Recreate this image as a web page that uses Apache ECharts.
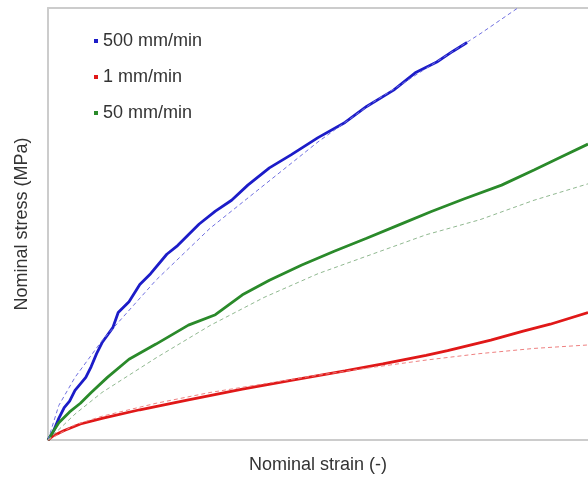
<!DOCTYPE html>
<html>
<head>
<meta charset="utf-8">
<script src="https://cdn.jsdelivr.net/npm/echarts@6/dist/echarts.min.js"></script>
<style>
html, body { margin: 0; padding: 0; background: #fff; }
#main { width: 588px; height: 479px; }
</style>
</head>
<body>
<div id="main"></div>
<script>
// measured curves, [strain, stress] in relative units (0..1)
var blue500 = [[0,0],[0.01,0.02],[0.02,0.05],[0.03,0.075],[0.04,0.09],[0.05,0.115],[0.06,0.13],[0.07,0.145],
  [0.08,0.17],[0.09,0.2],[0.1,0.225],[0.12,0.26],[0.13,0.295],[0.15,0.32],[0.17,0.36],[0.19,0.385],
  [0.22,0.43],[0.24,0.45],[0.26,0.475],[0.28,0.5],[0.31,0.53],[0.34,0.555],[0.37,0.59],[0.41,0.63],
  [0.45,0.66],[0.5,0.7],[0.55,0.735],[0.59,0.772],[0.64,0.81],[0.68,0.85],[0.72,0.875],[0.75,0.9],[0.776,0.92]];
var red1 = [[0,0],[0.01,0.01],[0.03,0.022],[0.06,0.037],[0.1,0.05],[0.17,0.07],[0.26,0.093],[0.36,0.118],
  [0.45,0.138],[0.55,0.16],[0.62,0.176],[0.7,0.196],[0.74,0.207],[0.82,0.231],[0.88,0.252],[0.93,0.268],[1.0,0.295]];
var green50 = [[0,0],[0.01,0.02],[0.02,0.04],[0.04,0.065],[0.06,0.085],[0.08,0.11],[0.11,0.145],[0.15,0.187],
  [0.2,0.222],[0.26,0.266],[0.31,0.29],[0.36,0.336],[0.41,0.37],[0.47,0.405],[0.53,0.437],[0.59,0.467],
  [0.65,0.498],[0.71,0.529],[0.77,0.558],[0.84,0.59],[0.9,0.625],[0.95,0.655],[1.0,0.685]];

// model fits (dashed)
var blueFit = [[0,0],[0.02,0.08],[0.05,0.145],[0.1,0.23],[0.2,0.37],[0.3,0.49],[0.4,0.59],[0.5,0.69],
  [0.6,0.78],[0.7,0.86],[0.8,0.94],[0.87,1.0]];
var greenFit = [[0,0],[0.05,0.06],[0.1,0.11],[0.2,0.19],[0.3,0.265],[0.4,0.33],[0.5,0.385],[0.6,0.43],
  [0.7,0.475],[0.8,0.51],[0.9,0.555],[1.0,0.593]];
var redFit = [[0,0],[0.05,0.035],[0.1,0.055],[0.2,0.085],[0.3,0.11],[0.4,0.13],[0.5,0.15],[0.6,0.168],
  [0.7,0.185],[0.8,0.2],[0.9,0.212],[1.0,0.22]];

var seriesNames = ['500 mm/min', '1 mm/min', '50 mm/min'];

var myChart = echarts.init(document.getElementById('main'));

function fitLine(data, color) {
  return {
    type: 'line', data: data, showSymbol: false, silent: true, z: 3,
    lineStyle: { color: color, width: 1, type: [4, 3] }
  };
}
function dataLine(name, data, color) {
  return {
    name: name, type: 'line', data: data, showSymbol: false, z: 2,
    itemStyle: { color: color },
    lineStyle: { color: color, width: 2.8 }
  };
}

var frameLine = { show: true, lineStyle: { color: '#cccccc', width: 2 } };

myChart.setOption({
  animation: false,
  textStyle: { fontFamily: 'Liberation Sans, Arial, sans-serif' },
  grid: { left: 48, top: 8, right: 0, bottom: 36 },
  legend: {
    data: seriesNames,
    orient: 'vertical',
    left: 89, top: 27,
    itemGap: 18,
    itemWidth: 4, itemHeight: 4,
    icon: 'rect',
    textStyle: { fontSize: 18, color: '#333' }
  },
  xAxis: [{
    type: 'value', min: 0, max: 1,
    name: 'Nominal strain (-)', nameLocation: 'middle', nameGap: 16,
    nameTextStyle: { fontSize: 18, color: '#333' },
    axisLine: frameLine,
    axisTick: { show: false }, axisLabel: { show: false }, splitLine: { show: false }
  }, {
    // top frame line only, no right one
    type: 'value', min: 0, max: 1, position: 'top',
    axisLine: frameLine,
    axisTick: { show: false }, axisLabel: { show: false }, splitLine: { show: false }
  }],
  yAxis: {
    type: 'value', min: 0, max: 1,
    name: 'Nominal stress (MPa)', nameLocation: 'middle', nameGap: 17,
    nameTextStyle: { fontSize: 18, color: '#333' },
    axisLine: frameLine,
    axisTick: { show: false }, axisLabel: { show: false }, splitLine: { show: false }
  },
  series: [
    dataLine(seriesNames[0], blue500, '#1c1cc8'),
    dataLine(seriesNames[1], red1, '#e01818'),
    dataLine(seriesNames[2], green50, '#2a8a2a'),
    fitLine(blueFit, '#7070e0'),
    fitLine(greenFit, '#90b890'),
    fitLine(redFit, '#ee8080')
  ]
});
</script>
</body>
</html>
